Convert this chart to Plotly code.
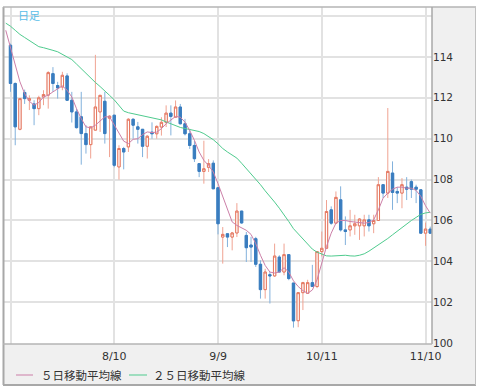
import plotly.graph_objects as go

# Trading-day index (0 = 7/11)
day_index = list(range(0, 90))

opens = [114.57,112.70,110.46,112.26,111.88,111.70,111.47,112.04,112.13,113.18,
         112.60,112.53,113.07,111.88,111.31,111.07,110.25,109.71,110.42,111.31,
         111.83,111.00,111.15,108.62,109.52,109.60,110.95,110.58,110.46,109.63,
         110.32,110.24,110.57,110.80,111.25,111.05,111.55,110.73,110.24,109.67,
         108.78,108.40,108.60,108.80,107.60,105.19,105.35,105.19,105.39,106.46,
         105.27,104.80,105.11,103.86,102.62,103.35,103.29,104.21,103.48,104.33,
         102.94,101.10,102.47,102.44,102.96,102.77,104.48,104.64,106.52,105.87,
         107.01,105.54,105.54,105.74,105.74,105.74,106.03,105.84,106.00,107.75,
         107.34,108.32,107.42,107.34,107.63,107.90,107.63,107.50,105.38,105.58]
highs = [114.65,112.75,111.96,112.40,112.12,111.88,112.10,112.37,113.30,113.50,
         112.78,113.27,113.20,112.29,111.47,112.29,110.66,110.58,114.10,112.12,
         112.29,111.15,111.15,109.68,109.60,111.00,111.00,110.82,110.46,110.17,
         110.80,110.65,111.05,111.63,111.63,111.87,111.70,110.97,110.48,109.90,
         108.80,109.90,109.00,108.94,107.60,105.68,105.36,105.44,106.85,106.46,
         105.44,105.20,105.20,104.05,103.64,103.48,104.87,104.30,104.87,104.33,
         102.94,102.47,103.00,103.10,103.83,104.48,105.46,107.00,106.69,107.42,
         107.67,106.20,106.52,106.28,106.11,106.28,106.28,106.28,108.12,107.75,
         111.50,108.89,107.63,108.07,108.12,108.00,107.75,107.50,105.90,105.70]
lows = [112.29,109.68,110.41,111.70,111.40,110.66,111.15,111.64,111.47,112.29,
        111.96,112.37,111.85,110.79,110.50,108.73,109.27,109.03,110.40,110.33,
        109.76,109.10,108.60,108.00,108.50,109.35,110.00,109.76,109.10,109.03,
        110.00,110.00,110.15,110.57,110.16,111.05,110.70,110.16,109.50,108.86,
        108.12,107.80,108.37,107.55,105.32,103.89,104.70,104.54,105.19,105.84,
        103.97,103.97,103.73,102.18,102.18,101.94,103.24,103.48,103.32,103.08,
        100.76,100.78,101.62,102.44,102.77,102.69,104.24,104.64,105.79,105.87,
        105.46,104.80,105.22,105.30,105.05,105.22,105.46,105.38,106.00,107.10,
        107.10,106.52,106.85,106.60,107.00,107.10,106.85,105.38,104.76,105.35]
closes = [112.70,110.58,111.96,111.96,111.96,111.47,112.00,112.16,113.23,112.70,
          112.48,113.10,111.88,111.31,110.54,110.25,109.71,110.58,111.55,112.12,
          110.25,111.10,108.70,109.52,109.35,110.95,110.66,110.46,109.63,110.12,
          110.24,110.60,110.80,111.25,111.09,111.55,110.73,110.24,109.67,109.02,
          108.40,108.53,108.78,107.55,105.84,105.32,105.19,105.39,106.46,105.88,
          104.67,104.70,103.86,102.62,103.48,103.29,104.26,103.48,104.33,103.16,
          101.09,102.47,102.96,102.96,102.77,104.48,104.64,106.44,105.87,107.13,
          105.54,105.46,105.74,105.84,106.07,106.03,105.74,106.00,107.75,107.34,
          108.40,107.37,107.34,107.75,107.53,107.53,107.53,105.38,105.58,105.38]

# Moving averages (index -1 .. 89)
ma_index = list(range(-1, 90))
ma5 = [115.30,114.49,113.59,112.78,112.20,111.83,111.64,111.77,112.04,112.13,
       112.29,112.45,112.58,112.37,112.04,111.47,110.98,110.58,110.53,110.66,
       110.85,111.07,111.07,110.66,110.25,109.88,109.76,109.97,110.00,110.20,
       110.33,110.30,110.32,110.49,110.73,110.93,111.09,111.05,110.81,110.40,
       109.92,109.35,108.94,108.69,108.37,107.80,107.15,106.50,105.93,105.76,
       105.65,105.52,105.32,104.87,104.30,103.80,103.48,103.43,103.48,103.69,
       103.48,103.05,102.77,102.57,102.44,102.60,103.10,103.91,104.73,105.38,
       105.87,106.00,106.00,105.95,105.92,105.90,105.87,105.90,106.03,106.52,
       107.09,107.34,107.53,107.63,107.63,107.58,107.58,107.47,107.18,106.72,
       106.36]
ma25 = [115.65,115.50,115.30,115.10,114.95,114.80,114.65,114.50,114.45,114.40,
        114.32,114.25,114.12,114.00,113.87,113.65,113.42,113.20,112.98,112.75,
        112.55,112.35,112.12,111.90,111.60,111.35,111.27,111.22,111.17,111.14,
        111.10,111.05,111.00,110.92,110.82,110.72,110.62,110.55,110.50,110.45,
        110.40,110.35,110.25,110.12,109.95,109.75,109.52,109.35,109.20,109.05,
        108.80,108.55,108.25,108.00,107.75,107.45,107.20,106.90,106.60,106.30,
        105.95,105.60,105.35,105.10,104.85,104.60,104.45,104.35,104.27,104.26,
        104.28,104.31,104.30,104.27,104.26,104.30,104.37,104.50,104.65,104.80,
        104.95,105.12,105.30,105.48,105.65,105.83,106.00,106.15,106.30,106.37,
        106.40]

grid_x = [0, 22, 44, 66, 88]
grid_x_labels = ["", "8/10", "9/9", "10/11", "11/10"]
y_ticks = [100, 102, 104, 106, 108, 110, 112, 114, 116]
y_labels = ["100", "102", "104", "106", "108", "110", "112", "114", ""]
legend_names = ["５日移動平均線", "２５日移動平均線"]
ma_colors = ["#cc7fa8", "#4fcb8e"]

body_hi = [max(o, c) for o, c in zip(opens, closes)]
body_lo = [min(o, c) for o, c in zip(opens, closes)]

fig = go.Figure()
# wicks (lighter)
fig.add_trace(go.Candlestick(
    x=day_index, open=opens, high=highs, low=lows, close=closes,
    increasing=dict(line=dict(color="#f0a392", width=1), fillcolor="white"),
    decreasing=dict(line=dict(color="#82b1dc", width=1), fillcolor="#3a7dbf"),
    showlegend=False, hoverinfo="skip"))
# bodies
fig.add_trace(go.Candlestick(
    x=day_index, open=opens, high=body_hi, low=body_lo, close=closes,
    increasing=dict(line=dict(color="#e4765f", width=1), fillcolor="white"),
    decreasing=dict(line=dict(color="#3a7dbf", width=1), fillcolor="#3a7dbf"),
    showlegend=False, hoverinfo="skip"))
fig.add_trace(go.Scatter(x=ma_index, y=ma25, mode="lines",
                         line=dict(color=ma_colors[1], width=1), showlegend=False))
fig.add_trace(go.Scatter(x=ma_index, y=ma5, mode="lines",
                         line=dict(color=ma_colors[0], width=1), showlegend=False))

W, H = 477, 391
L, R, T, B = 4, 45, 7, 47
pw, ph = W - L - R, H - T - B


def px(x):
    return (x - L) / pw


def py(y):
    return (H - B - y) / ph


shapes = [
    # grey panels
    dict(type="rect", xref="paper", yref="paper", x0=px(3), x1=px(476), y0=py(385), y1=py(344),
         fillcolor="#f0f0f0", line=dict(width=0), layer="below"),
    dict(type="rect", xref="paper", yref="paper", x0=px(432), x1=px(476), y0=py(344), y1=py(7),
         fillcolor="#f0f0f0", line=dict(width=0), layer="below"),
    # borders
    dict(type="line", xref="paper", yref="paper", x0=px(3.5), x1=px(3.5), y0=py(385), y1=py(7),
         line=dict(color="#a8a8a8", width=2)),
    dict(type="line", xref="paper", yref="paper", x0=px(3), x1=px(476), y0=py(7), y1=py(7),
         line=dict(color="#b4b4b4", width=1.5)),
    dict(type="line", xref="paper", yref="paper", x0=px(432), x1=px(432), y0=py(344), y1=py(7),
         line=dict(color="#a8a8a8", width=1.5)),
    dict(type="line", xref="paper", yref="paper", x0=px(3), x1=px(432), y0=py(344), y1=py(344),
         line=dict(color="#b4b4b4", width=1.5)),
    dict(type="line", xref="paper", yref="paper", x0=px(3), x1=px(476), y0=py(385), y1=py(385),
         line=dict(color="#a8a8a8", width=2)),
    dict(type="line", xref="paper", yref="paper", x0=px(475.5), x1=px(475.5), y0=py(385), y1=py(7),
         line=dict(color="#c0c0c0", width=1)),
    # legend lines
    dict(type="line", xref="paper", yref="paper", x0=px(16), x1=px(33), y0=py(375), y1=py(375),
         line=dict(color=ma_colors[0], width=1)),
    dict(type="line", xref="paper", yref="paper", x0=px(129), x1=px(147), y0=py(375), y1=py(375),
         line=dict(color=ma_colors[1], width=1)),
]

annotations = [
    dict(text="日足", xref="paper", yref="paper", x=px(16), y=py(15), xanchor="left", yanchor="middle",
         showarrow=False, font=dict(family="Noto Sans CJK JP", size=11, color="#58bde8")),
    dict(text=legend_names[0], xref="paper", yref="paper", x=px(39), y=py(375), xanchor="left",
         yanchor="middle", showarrow=False,
         font=dict(family="Noto Sans CJK JP", size=11.5, color="#333333")),
    dict(text=legend_names[1], xref="paper", yref="paper", x=px(151), y=py(375), xanchor="left",
         yanchor="middle", showarrow=False,
         font=dict(family="Noto Sans CJK JP", size=11.5, color="#333333")),
]

fig.update_layout(
    width=W, height=H,
    margin=dict(l=L, r=R, t=T, b=B),
    paper_bgcolor="white", plot_bgcolor="white",
    showlegend=False,
    shapes=shapes, annotations=annotations,
    xaxis=dict(range=[-1.378, 89.37], tickmode="array", tickvals=grid_x, ticktext=grid_x_labels,
               showgrid=True, gridcolor="#e2e2e2", gridwidth=2, zeroline=False, automargin=False,
               rangeslider=dict(visible=False), ticks="", ticklabelstandoff=4,
               tickfont=dict(family="DejaVu Sans", size=11, color="#333333"), fixedrange=True),
    yaxis=dict(range=[99.96, 116.44], side="right", tickmode="array", tickvals=y_ticks,
               ticktext=y_labels, showgrid=True, gridcolor="#e2e2e2", gridwidth=2,
               zeroline=False, ticks="", automargin=False,
               tickfont=dict(family="DejaVu Sans", size=10.5, color="#333333"), fixedrange=True),
)

fig.write_html("out.html", config={"displayModeBar": False, "staticPlot": True},
               post_script="document.body.style.margin='0';")
